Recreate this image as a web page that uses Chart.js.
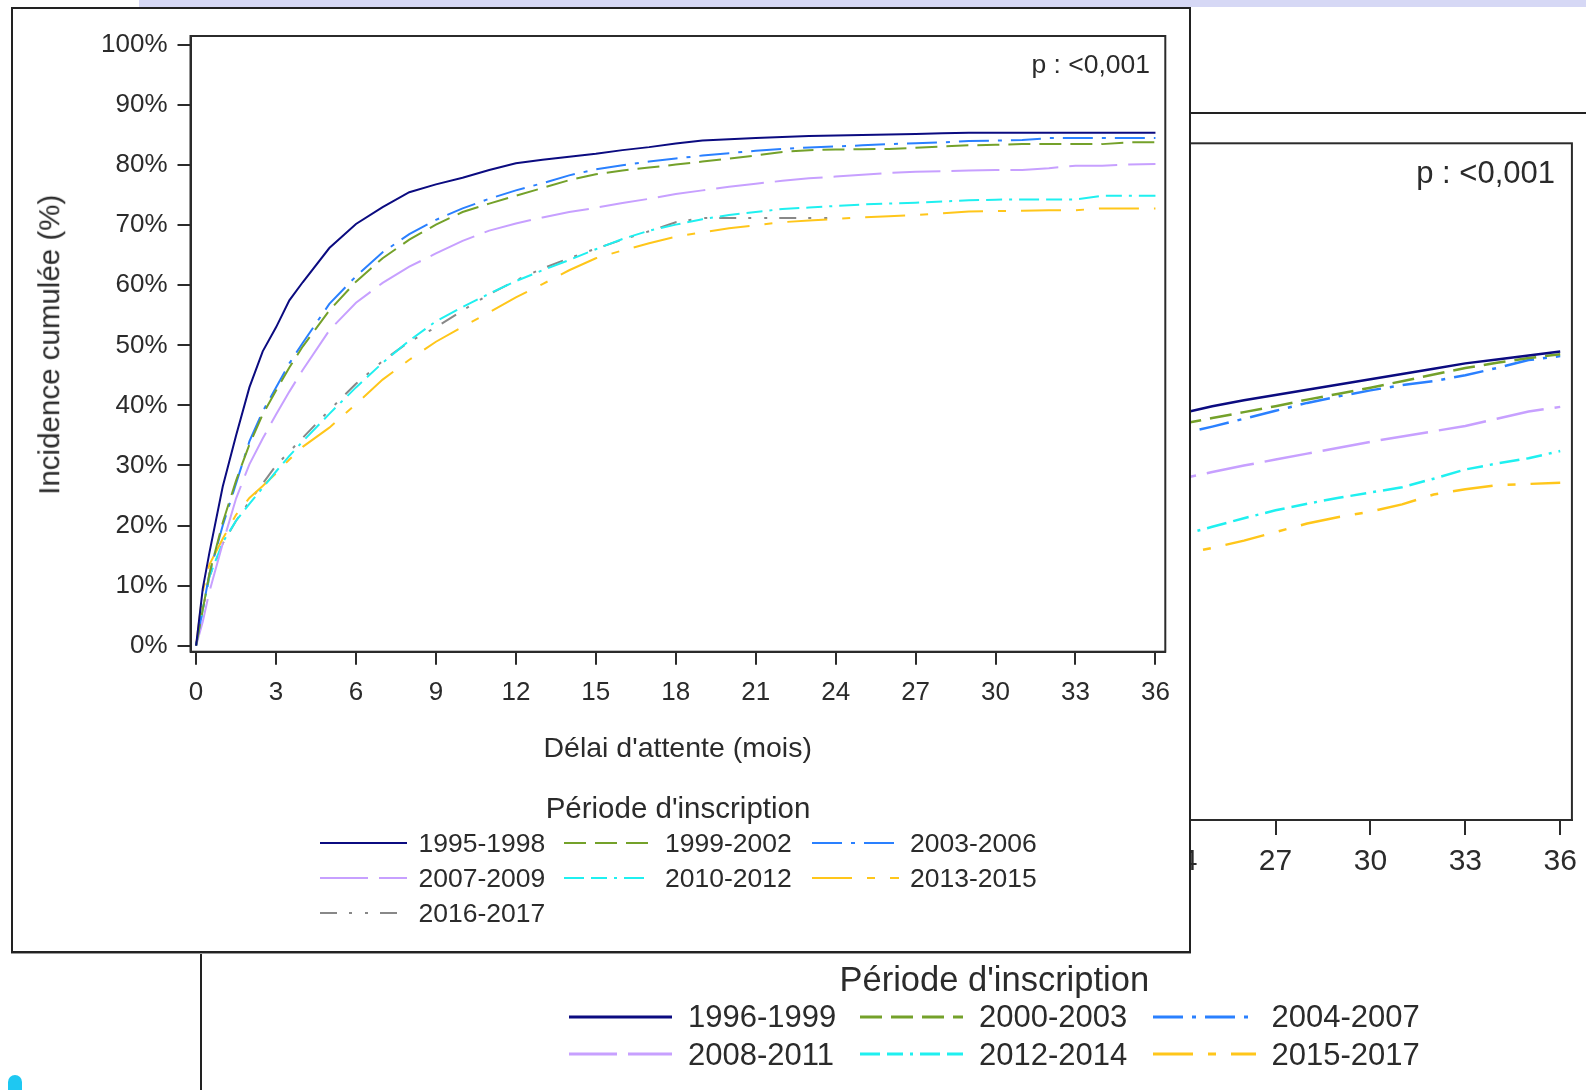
<!DOCTYPE html>
<html lang="fr">
<head>
<meta charset="utf-8">
<title>Incidence cumulée</title>
<script src="https://cdn.jsdelivr.net/npm/chart.js@4.4.1/dist/chart.umd.min.js"></script>
<style>
  body { margin: 0; width: 1586px; height: 1090px; overflow: hidden; background: #fff; position: relative;
         font-family: 'Liberation Sans', Arial, sans-serif; color: #2b2b2b; }
  .abs { position: absolute; white-space: nowrap; }
  #topbar { left: 139px; top: 0; width: 1447px; height: 7px; background: #d6d8f5; }
  #backBox { left: 200px; top: 112px; width: 1400px; height: 1000px; border-left: 2px solid #222; border-top: 2px solid #222; z-index: 1; }
  #backWrap { left: 202px; top: 114px; z-index: 2; }
  #frontBox { left: 11px; top: 7px; width: 1176px; height: 942px; border: 2px solid #222; background: #fff; box-shadow: 0 1px 0 #999; z-index: 5; }
  #frontWrap { left: 13px; top: 9px; z-index: 6; }
  .txt { z-index: 7; line-height: 1; }
  .btxt { z-index: 3; line-height: 1; }
  #blob { left: 8px; top: 1075px; width: 14px; height: 20px; background: #1ec8f2; border-radius: 7px 7px 0 0; }
</style>
</head>
<body>
<div id="topbar" class="abs"></div>
<div id="blob" class="abs"></div>
<div id="backBox" class="abs"></div>
<div id="backWrap" class="abs"><canvas id="back" width="1384" height="976"></canvas></div>
<div id="frontBox" class="abs"></div>
<div id="frontWrap" class="abs"><canvas id="front" width="1176" height="942"></canvas></div>

<script>
const FONT = "'Liberation Sans', Arial, sans-serif";
const INK = '#2b2b2b';

// ---- front chart data (mois, %) ----
const months = [0, 0.25, 0.5, 1, 1.5, 2, 2.5, 3, 3.5, 4, 5, 6, 7, 8, 9, 10, 11, 12, 13, 14, 15, 16, 17, 18,
                19, 20, 21, 22, 23, 24, 25, 26, 27, 28, 29, 30, 31, 32, 33, 34, 35, 36];
const xTicks = [0, 3, 6, 9, 12, 15, 18, 21, 24, 27, 30, 33, 36];
const yTicks = [0, 10, 20, 30, 40, 50, 60, 70, 80, 90, 100];
const periods = ['1995-1998', '1999-2002', '2003-2006', '2007-2009', '2010-2012', '2013-2015', '2016-2017'];

const p1995 = [0, 9.5, 15.5, 26.5, 35, 43, 49, 53, 57.5, 60.5, 66.2, 70.2, 73, 75.5, 76.8, 77.9, 79.2, 80.3,
               80.9, 81.4, 81.9, 82.5, 83.0, 83.6, 84.1, 84.3, 84.5, 84.7, 84.85, 84.95, 85.0, 85.1, 85.2,
               85.3, 85.4, 85.4, 85.4, 85.4, 85.4, 85.4, 85.4, 85.4];
const p1999 = [0, 6, 12, 20.5, 27.5, 33.5, 38.5, 42.5, 46.3, 49.8, 55.8, 60.6, 64.5, 67.6, 70.1, 72.2, 73.6,
               74.9, 76.2, 77.5, 78.5, 79.1, 79.6, 80.1, 80.6, 81.1, 81.6, 82.2, 82.5, 82.6, 82.65, 82.7,
               82.9, 83.1, 83.3, 83.4, 83.5, 83.5, 83.5, 83.5, 83.8, 83.8];
const p2003 = [0, 6, 12, 20, 27, 34, 39, 43, 47, 50.4, 56.9, 61.5, 65.5, 68.5, 70.9, 72.8, 74.4, 75.8, 77.0,
               78.3, 79.3, 80.0, 80.6, 81.1, 81.6, 82.0, 82.4, 82.7, 82.95, 83.1, 83.3, 83.5, 83.65, 83.8,
               84.0, 84.1, 84.2, 84.5, 84.5, 84.5, 84.5, 84.5];
const p2007 = [0, 4, 9, 17, 24.5, 30.2, 34.5, 38.5, 42.3, 45.9, 52.5, 57.1, 60.4, 63.1, 65.3, 67.4, 69.1,
               70.3, 71.3, 72.2, 72.9, 73.7, 74.4, 75.2, 75.8, 76.4, 76.9, 77.4, 77.8, 78.1, 78.4, 78.7,
               78.9, 79.0, 79.1, 79.2, 79.2, 79.5, 79.9, 79.9, 80.1, 80.2];
const p2010 = [0, 6, 11.5, 17.2, 20.8, 23.6, 26.3, 29.0, 31.6, 34, 38.6, 43, 47.1, 50.8, 54, 56.4, 58.6,
               60.7, 62.5, 64.2, 66, 67.7, 69.1, 70.1, 71.0, 71.7, 72.2, 72.7, 72.95, 73.2, 73.45, 73.6,
               73.75, 73.95, 74.15, 74.25, 74.3, 74.3, 74.3, 74.9, 74.9, 74.9];
const p2013 = [0, 9, 13.5, 17.8, 21.8, 24.6, 26.6, 28.7, 31, 33.1, 36.3, 40.2, 44.3, 47.6, 50.6, 53.1, 55.5,
               58, 60.2, 62.5, 64.5, 65.8, 67, 68.1, 68.8, 69.5, 70, 70.5, 70.8, 71.05, 71.3, 71.5, 71.7,
               72.0, 72.3, 72.35, 72.4, 72.5, 72.5, 72.8, 72.8, 72.8];
const p2016 = [0, 6, 11.5, 17, 20.8, 24, 27, 30, 32.3, 34.6, 39.2, 43.6, 47.4, 50.6, 53, 55.8, 58.5, 60.8,
               62.8, 64.5, 66.1, 67.6, 69, 70.5, 71.2, 71.2, 71.2, 71.2, 71.2, 71.2,
               null, null, null, null, null, null, null, null, null, null, null, null];

// ---- back chart data (only the part not hidden) ----
const backMonths = [23, 24, 25, 26, 27, 28, 29, 30, 31, 32, 33, 34, 35, 36];
const backPeriods = ['1996-1999', '2000-2003', '2004-2007', '2008-2011', '2012-2014', '2015-2017'];
const b1996 = [59.6, 60.5, 61.6, 62.5, 63.3, 64.1, 64.9, 65.7, 66.5, 67.3, 68.1, 68.7, 69.3, 69.9];
const b2000 = [58.0, 58.9, 59.8, 60.7, 61.6, 62.6, 63.5, 64.4, 65.4, 66.4, 67.4, 68.2, 68.9, 69.5];
const b2004 = [56.2, 57.4, 58.5, 59.7, 60.9, 62.1, 63.1, 64.0, 64.8, 65.4, 66.3, 67.4, 68.6, 69.2];
const b2008 = [49.6, 50.6, 51.6, 52.6, 53.5, 54.4, 55.3, 56.2, 57.0, 57.8, 58.6, 59.7, 60.8, 61.5];
const b2012 = [40.8, 42.0, 43.3, 44.6, 45.8, 46.8, 47.7, 48.5, 49.3, 50.6, 52.0, 52.9, 53.7, 54.8];
const b2015 = [38.2, 39.1, 40.1, 41.2, 42.5, 43.8, 44.8, 45.6, 46.7, 48.2, 49.0, 49.6, 49.8, 50.0];

// styles
const colors = ['#0b0b80', '#74a12a', '#2a80ff', '#c7a0ff', '#1ff0f0', '#ffc61a', '#888888'];
const dashes = [[], [22, 9], [30, 9, 4, 9], [48, 11], [20, 7, 16, 7, 3, 7], [40, 15, 8, 15], [17, 12, 3, 13, 3, 12]];

function toPoints(xs, ys) {
  return xs.map((x, i) => ({ x: x, y: ys[i] })).filter(p => p.y !== null);
}

// draw the box round the plot area
const framePlugin = {
  id: 'frame',
  afterDraw(chart) {
    const a = chart.chartArea, ctx = chart.ctx;
    ctx.save();
    ctx.strokeStyle = INK;
    ctx.lineWidth = 2;
    ctx.strokeRect(a.left, a.top, a.right - a.left, a.bottom - a.top);
    ctx.restore();
  }
};

function axisX(min, max, ticks, opts) {
  return {
    type: 'linear', min: min, max: max,
    afterBuildTicks: s => { s.ticks = ticks.map(v => ({ value: v })); },
    afterFit: s => { s.height = opts.height; },
    grid: { drawOnChartArea: false, drawTicks: true, tickLength: opts.tick, color: INK, lineWidth: 2 },
    border: { color: INK, width: 2 },
    ticks: { font: { family: FONT, size: opts.size }, color: INK, padding: opts.pad, maxRotation: 0, autoSkip: false }
  };
}

Chart.defaults.font.family = FONT;

// ---- back chart ----
const backSeries = [b1996, b2000, b2004, b2008, b2012, b2015];
new Chart(document.getElementById('back'), {
  type: 'line',
  data: {
    datasets: backSeries.map((vals, i) => ({
      label: backPeriods[i], data: toPoints(backMonths, vals),
      borderColor: colors[i], borderDash: dashes[i], borderWidth: 2.5,
      pointRadius: 0, fill: false, tension: 0
    }))
  },
  options: {
    responsive: false, animation: false,
    layout: { padding: { left: 212.6, top: 29.3, right: 10.3, bottom: 210 } },
    plugins: { legend: { display: false }, tooltip: { enabled: false } },
    scales: {
      x: axisX(-0.22, 36.37, xTicks, { height: 60, tick: 15, size: 30, pad: 9 }),
      y: { display: false, min: -1.2, max: 101.5 }
    }
  },
  plugins: [framePlugin]
});

// ---- front chart ----
const frontSeries = [p1995, p1999, p2003, p2007, p2010, p2013, p2016];
new Chart(document.getElementById('front'), {
  type: 'line',
  data: {
    datasets: frontSeries.map((vals, i) => ({
      label: periods[i], data: toPoints(months, vals),
      borderColor: colors[i], borderDash: dashes[i], borderWidth: 2,
      pointRadius: 0, fill: false, tension: 0
    }))
  },
  options: {
    responsive: false, animation: false,
    layout: { padding: { left: 0, top: 27, right: 23.7, bottom: 239.3 } },
    plugins: { legend: { display: false }, tooltip: { enabled: false } },
    scales: {
      x: axisX(-0.21, 36.37, xTicks, { height: 60, tick: 13, size: 26, pad: 13 }),
      y: {
        min: -1, max: 101.5,
        afterBuildTicks: s => { s.ticks = yTicks.map(v => ({ value: v })); },
        afterFit: s => { s.width = 177.5; },
        grid: { drawOnChartArea: false, drawTicks: true, tickLength: 13, color: INK, lineWidth: 2 },
        border: { color: INK, width: 2 },
        ticks: { font: { family: FONT, size: 26 }, color: INK, padding: 10, callback: v => v + '%' }
      }
    }
  },
  plugins: [framePlugin]
});

// ---- html texts and legends ----
function addText(txt, x, y, size, cls, align) {
  const d = document.createElement('div');
  d.className = 'abs ' + cls;
  d.textContent = txt;
  d.style.fontSize = size + 'px';
  d.style.top = (y - size / 2) + 'px';
  if (align === 'center') {
    d.style.left = x + 'px';
    d.style.transform = 'translateX(-50%)';
  } else if (align === 'right') {
    d.style.right = (1586 - x) + 'px';
  } else {
    d.style.left = x + 'px';
  }
  document.body.appendChild(d);
  return d;
}

function addSample(x, y, len, color, dash, width, cls) {
  const ns = 'http://www.w3.org/2000/svg';
  const svg = document.createElementNS(ns, 'svg');
  svg.setAttribute('width', len);
  svg.setAttribute('height', 8);
  svg.setAttribute('class', 'abs ' + cls);
  svg.style.left = x + 'px';
  svg.style.top = (y - 4) + 'px';
  const line = document.createElementNS(ns, 'line');
  line.setAttribute('x1', 0); line.setAttribute('y1', 4);
  line.setAttribute('x2', len); line.setAttribute('y2', 4);
  line.setAttribute('stroke', color);
  line.setAttribute('stroke-width', width);
  if (dash.length) line.setAttribute('stroke-dasharray', dash.join(' '));
  svg.appendChild(line);
  document.body.appendChild(svg);
}

function legend(names, cfg) {
  names.forEach((name, i) => {
    const col = i % 3, row = Math.floor(i / 3);
    const y = cfg.rows[row];
    addSample(cfg.lineX[col], y, cfg.lineLen, colors[i], dashes[i], cfg.lineW, cfg.cls);
    addText(name, cfg.textX[col], y, cfg.size, cfg.cls, 'left');
  });
}

// front
addText('p : <0,001', 1150, 64, 26.5, 'txt', 'right');
addText("Délai d'attente (mois)", 677.7, 747, 28.5, 'txt', 'center');
const yt = addText('Incidence cumulée (%)', 48.5, 345, 29.5, 'txt', 'center');
yt.style.transform = 'translateX(-50%) rotate(-90deg)';
addText("Période d'inscription", 678, 808, 29.5, 'txt', 'center');
legend(periods, { rows: [843, 878, 913], lineX: [319.5, 564, 811.5], lineLen: 87, lineW: 2,
                  textX: [418.5, 665, 910], size: 26.5, cls: 'txt' });

// back
addText('p : <0,001', 1555, 172, 31, 'btxt', 'right');
addText("Période d'inscription", 994.3, 979, 34.5, 'btxt', 'center');
legend(backPeriods, { rows: [1016.6, 1054], lineX: [568.5, 860, 1153], lineLen: 103, lineW: 3,
                      textX: [688, 979, 1271.5], size: 31, cls: 'btxt' });
</script>
</body>
</html>
